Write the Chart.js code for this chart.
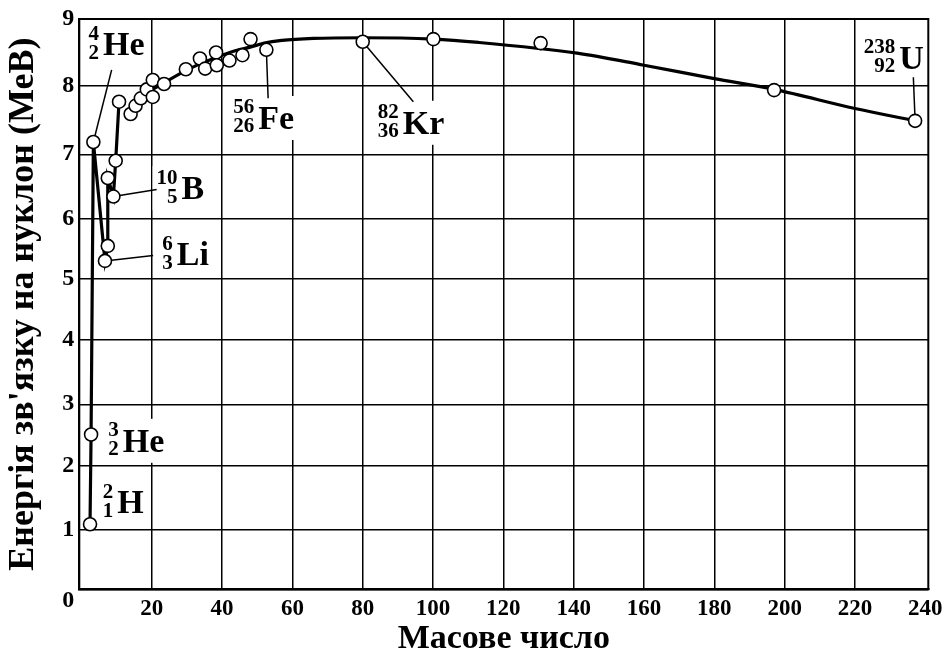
<!DOCTYPE html>
<html>
<head>
<meta charset="utf-8">
<script src="https://cdn.jsdelivr.net/npm/chart.js@4.4.1/dist/chart.umd.min.js"></script>
<style>
html,body{margin:0;padding:0;background:#fff;}
canvas{display:block;}
</style>
</head>
<body>
<canvas id="c" width="952" height="656"></canvas>
<script>
// ---------- data ----------
// mass number A and binding energy per nucleon (MeV) of the plotted nuclides
const nucA = [2.45, 2.75, 3.4, 6.7, 7.5, 7.5, 9.1, 9.75, 10.7, 14.0, 15.4, 16.9, 18.6, 20.3, 20.3, 23.5,
              29.7, 33.7, 35.2, 38.3, 38.5, 42.1, 45.8, 48.1, 52.6, 80.0, 100.1, 130.6, 197, 237.1];
const nucE = [1.08, 2.51, 7.18, 5.29, 5.54, 6.63, 6.34, 6.90, 7.77, 7.59, 7.71, 7.82, 7.95, 8.09, 7.84, 8.03,
              8.25, 8.41, 8.26, 8.50, 8.31, 8.38, 8.46, 8.70, 8.54, 8.66, 8.70, 8.64, 7.94, 7.49];
// the light nuclei joined by straight segments (first nine nuclides, in order)
const lightCount = 9;
// smooth trend curve
const curveA = [14, 19.5, 23.3, 29, 33.7, 38.5, 44, 48, 52, 57, 66, 80, 100, 113, 141, 160, 180, 197, 220, 237.1];
const curveE = [7.59, 7.92, 8.04, 8.21, 8.33, 8.43, 8.53, 8.58, 8.64, 8.68, 8.71, 8.72, 8.70, 8.65, 8.49, 8.31, 8.11, 7.95, 7.67, 7.49];
// ticks
const xTicks = [20, 40, 60, 80, 100, 120, 140, 160, 180, 200, 220, 240];
const yTicks = [0, 1, 2, 3, 4, 5, 6, 7, 8, 9];
// texts
const xTitle = 'Масове число';
const yTitle = "Енергія зв'язку на нуклон (МеВ)";
const isoSymbol = ['He', 'He', 'H', 'Li', 'B', 'Fe', 'Kr', 'U'];
const isoMass   = ['4', '3', '2', '6', '10', '56', '82', '238'];
const isoZ      = ['2', '2', '1', '3', '5', '26', '36', '92'];
const isoPoint  = [2, null, null, 3, 6, 24, 25, 29];   // nuclide each label points to

// ---------- layout of the annotations (in axis units) ----------
const labelAnchor = [[6.14, 8.46], [11.74, 2.23], [10.2, 1.25], [27.1, 5.22], [28.5, 6.30], [50.3, 7.37], [91.4, 7.30], [232.6, 8.26]];
const leaderStart = [[8.6, 8.24], null, null, [20.4, 5.38], [21.4, 6.45], [53.1, 7.82], [94.4, 7.77], [236.6, 8.13]];

// the printed value axis is not evenly divided: fraction of the height at each whole value
const yGridFrac = [0, 0.1052, 0.2162, 0.3244, 0.4371, 0.5453, 0.6505, 0.7628, 0.8825, 1];

class WarpedScale extends Chart.LinearScale {
  getPixelForValue(value) {
    if (value === null || value === undefined || isNaN(value)) return NaN;
    const f = yGridFrac, n = f.length - 1;
    let i = Math.floor(value);
    if (i < 0) i = 0;
    if (i > n - 1) i = n - 1;
    const d = f[i] + (f[i + 1] - f[i]) * (value - i);
    return this.getPixelForDecimal(d);
  }
  getValueForPixel(pixel) {
    const f = yGridFrac;
    const d = this.getDecimalForPixel(pixel);
    for (let i = 0; i < f.length - 1; i++) {
      if (d <= f[i + 1]) return i + (d - f[i]) / (f[i + 1] - f[i]);
    }
    return f.length - 1;
  }
}
WarpedScale.id = 'warped';
Chart.register(WarpedScale);

const FONT = "'Liberation Serif', 'Times New Roman', serif";

const toPts = (xs, ys) => xs.map((v, i) => ({x: v, y: ys[i]}));

const annotPlugin = {
  id: 'annot',
  beforeDatasetsDraw(chart) {
    const {ctx, chartArea: a, scales: {x, y}} = chart;
    ctx.save();
    // frame round the plot area
    ctx.strokeStyle = '#000';
    ctx.lineWidth = 2;
    ctx.strokeRect(a.left, a.top, a.right - a.left, a.bottom - a.top);

    const symFont = 'bold 34px ' + FONT;
    const numFont = 'bold 21px ' + FONT;
    const items = isoSymbol.map((s, i) => {
      const px = x.getPixelForValue(labelAnchor[i][0]);
      const py = y.getPixelForValue(labelAnchor[i][1]);
      ctx.font = symFont;
      const sw = ctx.measureText(s).width;
      ctx.font = numFont;
      const nw = Math.max(ctx.measureText(isoMass[i]).width, ctx.measureText(isoZ[i]).width);
      return {px, py, sw, nw};
    });
    // white boxes behind labels
    ctx.fillStyle = '#fff';
    items.forEach(it => {
      ctx.fillRect(it.px - it.nw - 8, it.py - 33, it.nw + it.sw + 11, 44);
    });
    // leader lines
    ctx.strokeStyle = '#000';
    ctx.lineWidth = 1.5;
    isoPoint.forEach((p, i) => {
      if (p === null || !leaderStart[i]) return;
      ctx.beginPath();
      ctx.moveTo(x.getPixelForValue(leaderStart[i][0]), y.getPixelForValue(leaderStart[i][1]));
      ctx.lineTo(x.getPixelForValue(nucA[p]), y.getPixelForValue(nucE[p]));
      ctx.stroke();
    });
    // label texts
    ctx.fillStyle = '#000';
    items.forEach((it, i) => {
      ctx.font = symFont;
      ctx.textAlign = 'left';
      ctx.textBaseline = 'alphabetic';
      ctx.fillText(isoSymbol[i], it.px, it.py);
      ctx.font = numFont;
      ctx.textAlign = 'right';
      ctx.textBaseline = 'middle';
      ctx.fillText(isoMass[i], it.px - 4, it.py - 21);
      ctx.fillText(isoZ[i], it.px - 4, it.py - 2);
    });
    ctx.restore();
  }
};

new Chart(document.getElementById('c'), {
  type: 'line',
  data: {
    datasets: [
      {
        label: 'nuclides',
        data: toPts(nucA, nucE),
        showLine: false,
        pointRadius: 6.5,
        pointBackgroundColor: '#fff',
        pointBorderColor: '#000',
        pointBorderWidth: 1.6,
        order: 0
      },
      {
        label: 'light',
        data: toPts(nucA.slice(0, lightCount), nucE.slice(0, lightCount)),
        borderColor: '#000',
        borderWidth: 3.2,
        pointRadius: 0,
        tension: 0,
        fill: false,
        order: 1
      },
      {
        label: 'curve',
        data: toPts(curveA, curveE),
        borderColor: '#000',
        borderWidth: 3.2,
        pointRadius: 0,
        cubicInterpolationMode: 'monotone',
        fill: false,
        order: 2
      }
    ]
  },
  options: {
    responsive: false,
    devicePixelRatio: 1,
    animation: false,
    events: [],
    layout: {padding: {top: 19, right: 23.7, bottom: 0, left: 0}},
    plugins: {legend: {display: false}, tooltip: {enabled: false}},
    scales: {
      x: {
        type: 'linear',
        min: -0.6,
        max: 240.85,
        afterBuildTicks: s => { s.ticks = xTicks.map(v => ({value: v})); },
        afterFit: s => { s.height = 66.7; },
        grid: {
          color: c => (c.tick && c.tick.value === 240) ? 'rgba(0,0,0,0)' : '#000',
          lineWidth: 1.5,
          drawTicks: false
        },
        border: {display: true, color: '#000', width: 2},
        ticks: {
          color: '#000',
          font: {family: FONT, size: 23, weight: 'bold'},
          padding: 6,
          maxRotation: 0,
          autoSkip: false,
          callback: v => String(v)
        },
        title: {
          display: true,
          text: xTitle,
          color: '#000',
          font: {family: FONT, size: 34, weight: 'bold', lineHeight: 0.85},
          padding: {top: 0, bottom: 2}
        }
      },
      y: {
        type: 'warped',
        min: 0,
        max: 9,
        afterBuildTicks: s => { s.ticks = yTicks.map(v => ({value: v})); },
        afterFit: s => { s.width = 79.3; },
        grid: {color: '#000', lineWidth: 1.5, drawTicks: false},
        border: {display: true, color: '#000', width: 2},
        ticks: {
          color: '#000',
          font: {family: FONT, size: 24, weight: 'bold', lineHeight: 0.95},
          padding: 5,
          autoSkip: false,
          callback: v => v === 0 ? ['', String(v)] : String(v)
        },
        title: {
          display: true,
          text: yTitle,
          color: '#000',
          font: {family: FONT, size: 36, weight: 'bold', lineHeight: 1},
          padding: {top: 6, bottom: 0}
        }
      }
    }
  },
  plugins: [annotPlugin]
});
</script>
</body>
</html>
